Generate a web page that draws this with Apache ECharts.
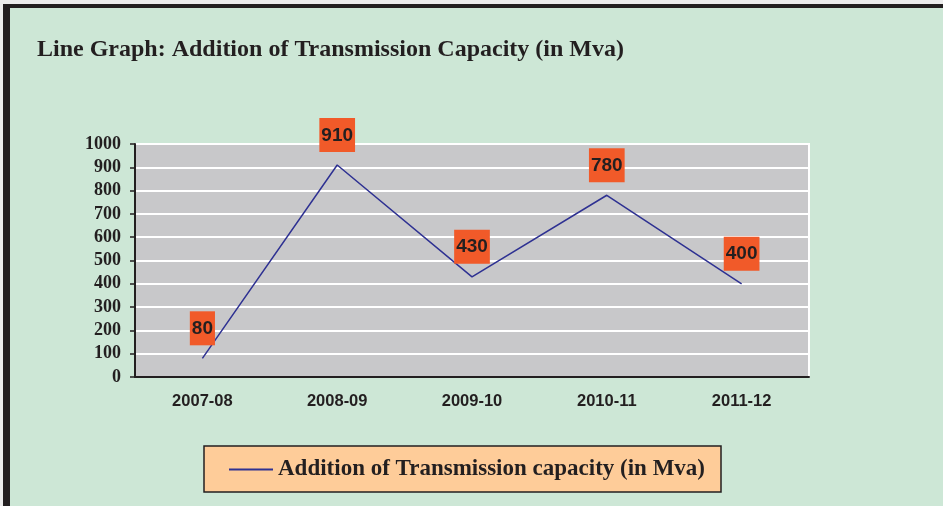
<!DOCTYPE html>
<html lang="en">
<head>
    <meta charset="UTF-8">
    <title>Line Graph</title>
    <style>
        body {
            margin: 0;
            background: #ececec;
        }
        #main {
            width: 943px;
            height: 506px;
        }
    </style>
</head>
<body>
    <div id='main'></div>

    <script src="https://cdn.jsdelivr.net/npm/echarts@6/dist/echarts.min.js"></script>
    <script>
        // data
        var years = ['2007-08', '2008-09', '2009-10', '2010-11', '2011-12'];
        var capacity = [80, 910, 430, 780, 400];
        var seriesName = 'Addition of Transmission capacity (in Mva)';

        var myChart = echarts.init(document.getElementById('main'));

        var option = {
            backgroundColor: '#ececec',
            animation: false,
            graphic: [
                // green panel with its dark frame (top and left only)
                {
                    type: 'rect',
                    shape: { x: 3, y: 4, width: 945, height: 510 },
                    style: { fill: '#231f20' },
                    z: -10
                },
                {
                    type: 'rect',
                    shape: { x: 10, y: 8, width: 940, height: 510 },
                    style: { fill: '#cde7d6' },
                    z: -9
                },
                // legend box
                {
                    type: 'rect',
                    shape: { x: 204, y: 446, width: 517, height: 46 },
                    style: { fill: '#fecc99', stroke: '#231f20', lineWidth: 1.5 },
                    z: -1
                },
                {
                    type: 'text',
                    left: 37,
                    top: 38,
                    style: {
                        text: 'Line Graph: Addition of Transmission Capacity (in Mva)',
                        font: 'bold 24px "Liberation Serif"',
                        fill: '#231f20'
                    }
                }
            ],
            grid: {
                left: 135,
                right: 134,
                top: 144,
                bottom: 129,
                show: true,
                backgroundColor: '#c8c8ca',
                borderColor: '#ffffff',
                borderWidth: 2
            },
            legend: {
                left: 224,
                top: 453,
                itemWidth: 44,
                itemHeight: 2,
                itemGap: 8,
                icon: 'rect',
                textStyle: {
                    fontFamily: 'Liberation Serif',
                    fontWeight: 'bold',
                    fontSize: 23,
                    color: '#231f20'
                },
                data: [{ name: seriesName, itemStyle: { color: '#2e3192' } }]
            },
            xAxis: {
                type: 'category',
                data: years,
                boundaryGap: true,
                axisLine: { lineStyle: { color: '#231f20', width: 2 } },
                axisTick: { length: 5, lineStyle: { color: '#231f20', width: 1.5 } },
                axisLabel: {
                    margin: 16,
                    fontFamily: 'Liberation Sans',
                    fontWeight: 'bold',
                    fontSize: 16.5,
                    color: '#231f20'
                }
            },
            yAxis: {
                type: 'value',
                min: 0,
                max: 1000,
                interval: 100,
                axisLine: { show: true, lineStyle: { color: '#231f20', width: 2 } },
                axisTick: { show: true, length: 5, lineStyle: { color: '#231f20', width: 1.5 } },
                splitLine: { lineStyle: { color: '#ffffff', width: 2 } },
                axisLabel: {
                    margin: 14,
                    formatter: function (v) { return String(v); },
                    fontFamily: 'Liberation Serif',
                    fontWeight: 'bold',
                    fontSize: 18,
                    color: '#231f20'
                }
            },
            series: [{
                name: seriesName,
                type: 'line',
                data: capacity,
                symbol: 'circle',
                symbolSize: 0.1,
                showSymbol: true,
                lineStyle: { color: '#2e3192', width: 1.5 },
                itemStyle: { color: '#2e3192' },
                label: {
                    show: true,
                    position: 'top',
                    distance: 13,
                    backgroundColor: '#f15a29',
                    padding: [8, 2, 7, 2],
                    fontFamily: 'Liberation Sans',
                    fontWeight: 'bold',
                    fontSize: 19,
                    color: '#231f20'
                }
            }]
        };

        myChart.setOption(option);
    </script>
</body>
</html>
